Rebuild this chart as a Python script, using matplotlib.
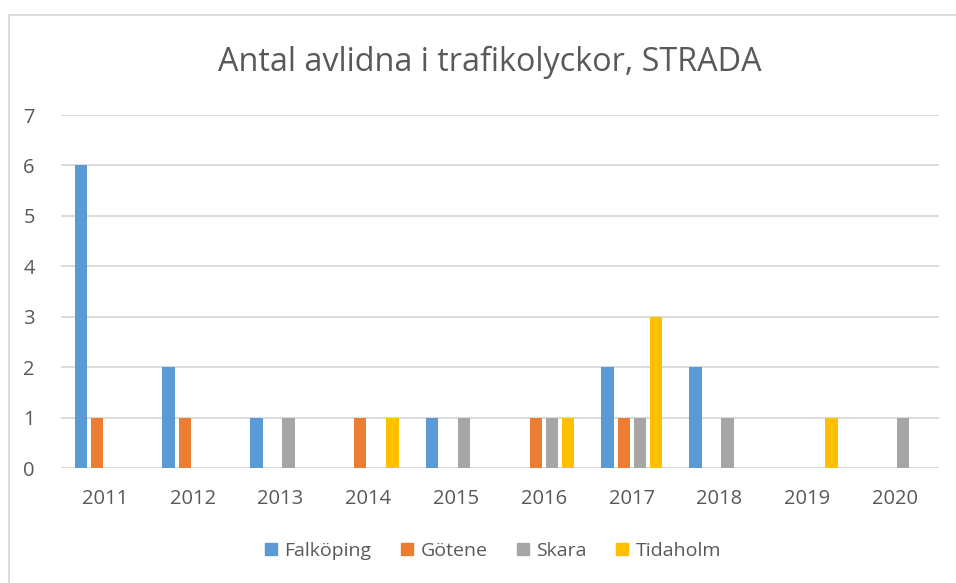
import matplotlib
matplotlib.use("Agg")
import matplotlib.pyplot as plt
from matplotlib.patches import Rectangle
import numpy as np

plt.rcParams['font.family'] = ['Open Sans', 'DejaVu Sans']

years = ['2011', '2012', '2013', '2014', '2015', '2016', '2017', '2018', '2019', '2020']
falkoping = [6, 2, 1, 0, 1, 0, 2, 2, 0, 0]
gotene = [1, 1, 0, 1, 0, 1, 1, 0, 0, 0]
skara = [0, 0, 1, 0, 1, 1, 1, 1, 0, 1]
tidaholm = [0, 0, 0, 1, 0, 1, 3, 0, 1, 0]
series_names = ['Falköping', 'Götene', 'Skara', 'Tidaholm']
colors = ['#5B9BD5', '#ED7D31', '#A5A5A5', '#FFC000']
text_color = '#595959'
grid_color = '#D9D9D9'

W, H = 956, 583
fig = plt.figure(figsize=(W / 100, H / 100), dpi=100)
fig.patch.set_facecolor('white')

# chart-area frame
fig.patches.append(Rectangle((8.5 / W, -0.05), 1.1, 1 - 15.5 / H + 0.05,
                             transform=fig.transFigure, fill=False,
                             edgecolor=grid_color, linewidth=1.3))

ax = fig.add_axes([61 / W, 1 - 468 / H, (939 - 61) / W, (468 - 115) / H])
x = np.arange(len(years))
spacing = 0.183
width = 0.14
for i, (vals, name, c) in enumerate(zip([falkoping, gotene, skara, tidaholm],
                                        series_names, colors)):
    ax.bar(x + (i - 1.5) * spacing, vals, width=width, color=c, label=name,
           zorder=3)

ax.set_xlim(-0.5, len(years) - 0.5)
ax.set_ylim(0, 7)
ax.set_yticks(range(0, 8))
ax.set_xticks(x)
ax.set_xticklabels(years)
for s in ax.spines.values():
    s.set_visible(False)
ax.yaxis.grid(True, color=grid_color, linewidth=1.3, zorder=0)
ax.axhline(0, color=grid_color, linewidth=1.3, zorder=1)
ax.tick_params(axis='both', length=0, labelsize=14.5, labelcolor=text_color)
ax.tick_params(axis='y', pad=23)
ax.tick_params(axis='x', pad=15)
for lab in ax.get_yticklabels():
    lab.set_horizontalalignment('center')

fig.text(490 / W, 1 - 62 / H, 'Antal avlidna i trafikolyckor, STRADA',
         ha='center', va='center', fontsize=23.3, color=text_color)

handles = [Rectangle((0, 0), 1, 1, color=c) for c in colors]
fig.legend(handles, series_names, loc='center', bbox_to_anchor=(493 / W, 1 - 551 / H),
           ncol=4, frameon=False, fontsize=14, labelcolor=text_color,
           handlelength=0.62, handleheight=0.62, handletextpad=0.4,
           columnspacing=1.5)

fig.savefig('out.png', dpi=100, facecolor='white')
